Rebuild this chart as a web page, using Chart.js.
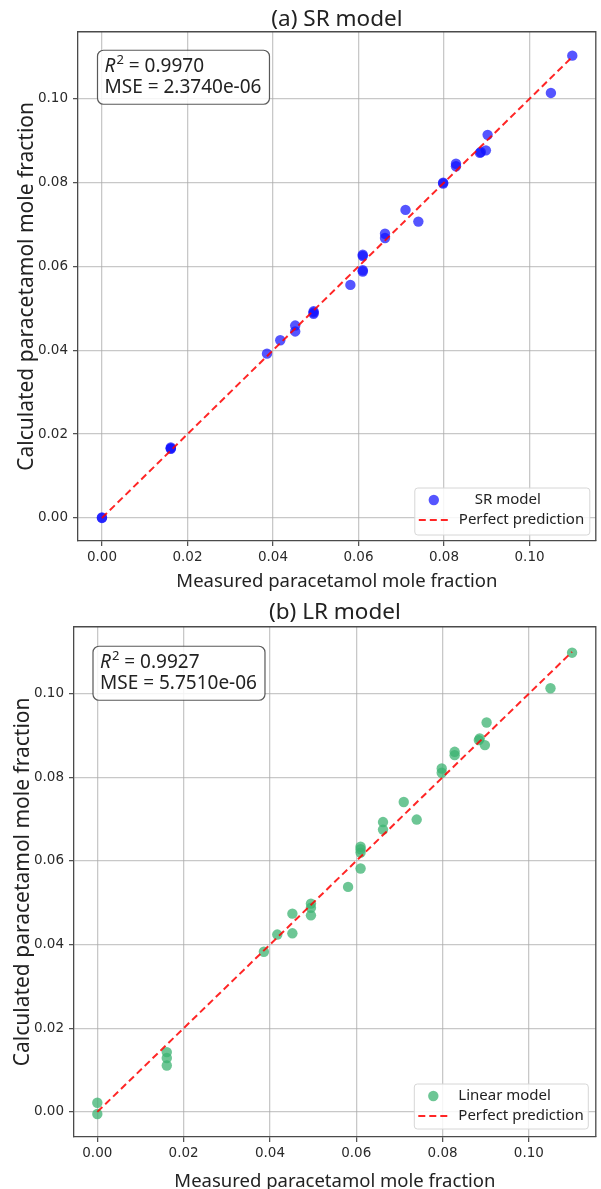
<!DOCTYPE html>
<html>
<head>
<meta charset="utf-8">
<script src="https://cdn.jsdelivr.net/npm/chart.js@4.4.1/dist/chart.umd.min.js"></script>
<style>
  html, body { margin: 0; padding: 0; background: #fff; }
  #wrap { position: relative; width: 601px; height: 1189px; }
  canvas { position: absolute; left: 0; }
  #chartA { top: 0; }
  #chartB { top: 595px; }
</style>
</head>
<body>
<div id="wrap">
  <canvas id="chartA" width="601" height="595"></canvas>
  <canvas id="chartB" width="601" height="594"></canvas>
</div>
<script>
// measured mole fractions (shared by both panels)
const measured = [0, 0, 0.0161, 0.0161, 0.0161, 0.0386, 0.0417, 0.0452, 0.0452, 0.0495, 0.0495, 0.0495,
  0.0581, 0.0610, 0.0610, 0.0610, 0.0610, 0.0662, 0.0662, 0.0710, 0.0740, 0.0798, 0.0798,
  0.0828, 0.0828, 0.0884, 0.0886, 0.0898, 0.0902, 0.1050, 0.1100];
// SR model predictions
const srPredicted = [0.0000, 0.0001, 0.0168, 0.0166, 0.0165, 0.0392, 0.0424, 0.0459, 0.0445, 0.0493, 0.0487, 0.0490,
  0.0556, 0.0628, 0.0625, 0.0591, 0.0588, 0.0678, 0.0668, 0.0735, 0.0707, 0.0800, 0.0798,
  0.0845, 0.0839, 0.0871, 0.0873, 0.0877, 0.0914, 0.1014, 0.1103];
// linear model predictions
const lrPredicted = [0.0022, -0.0005, 0.0143, 0.0129, 0.0111, 0.0383, 0.0424, 0.0474, 0.0427, 0.0498, 0.0488, 0.0470,
  0.0538, 0.0634, 0.0628, 0.0620, 0.0582, 0.0693, 0.0675, 0.0741, 0.0699, 0.0821, 0.0811,
  0.0861, 0.0853, 0.0889, 0.0893, 0.0877, 0.0931, 0.1013, 0.1098];
const perfectLine = [0, 0.11];
const xTicks = [0, 0.02, 0.04, 0.06, 0.08, 0.10];
const yTicks = [0, 0.02, 0.04, 0.06, 0.08, 0.10];
const srStats = { r2: "0.9970", mse: "2.3740e-06" };
const lrStats = { r2: "0.9927", mse: "5.7510e-06" };

const SANS = "'Noto Sans', 'Open Sans', sans-serif";
const TICKFONT = "'DejaVu Sans', sans-serif";
const spineColor = "#4a4a4a";

// stats box, legend and the top/right spines
const insetPlugin = {
  id: "inset",
  afterDraw(chart, args, opts) {
    const ctx = chart.ctx;
    const a = chart.chartArea;
    ctx.save();

    ctx.strokeStyle = spineColor;
    ctx.lineWidth = 1.3;
    ctx.beginPath();
    ctx.moveTo(a.left, a.top);
    ctx.lineTo(a.right, a.top);
    ctx.lineTo(a.right, a.bottom);
    ctx.stroke();

    // R2 / MSE box
    const bx = a.left + opts.statsX, by = a.top + opts.statsY;
    ctx.font = "19px " + SANS;
    const line2 = "MSE = " + opts.stats.mse;
    const bw = ctx.measureText(line2).width + 15;
    const bh = 54;
    ctx.beginPath();
    ctx.roundRect(bx, by, bw, bh, 6);
    ctx.fillStyle = "rgba(255,255,255,0.85)";
    ctx.fill();
    ctx.strokeStyle = "rgba(60,60,60,0.85)";
    ctx.lineWidth = 1.2;
    ctx.stroke();
    ctx.fillStyle = "#222";
    ctx.textBaseline = "middle";
    ctx.textAlign = "left";
    let tx = bx + 7;
    ctx.font = "italic 19px " + SANS;
    ctx.fillText("R", tx, by + 16);
    tx += ctx.measureText("R").width + 1;
    ctx.font = "13px " + SANS;
    ctx.fillText("2", tx, by + 10);
    tx += ctx.measureText("2").width;
    ctx.font = "19px " + SANS;
    ctx.fillText(" = " + opts.stats.r2, tx, by + 16);
    ctx.fillText(line2, bx + 7, by + 37);

    // legend
    const lg = opts.legend;
    const lx = a.right - lg.right - lg.w, ly = a.bottom - lg.bottom - lg.h;
    ctx.beginPath();
    ctx.roundRect(lx, ly, lg.w, lg.h, 3);
    ctx.fillStyle = "rgba(255,255,255,0.85)";
    ctx.fill();
    ctx.strokeStyle = "#d6d6d6";
    ctx.lineWidth = 1;
    ctx.stroke();
    ctx.font = "15px " + SANS;
    chart.data.datasets.forEach((ds, i) => {
      const rowY = ly + 12 + i * 20;
      if (ds.showLine) {
        ctx.strokeStyle = ds.borderColor;
        ctx.lineWidth = ds.borderWidth;
        ctx.setLineDash(ds.borderDash);
        ctx.beginPath();
        ctx.moveTo(lx + 4, rowY);
        ctx.lineTo(lx + 34, rowY);
        ctx.stroke();
        ctx.setLineDash([]);
      } else {
        ctx.fillStyle = ds.backgroundColor;
        ctx.beginPath();
        ctx.arc(lx + 19, rowY, ds.pointRadius, 0, Math.PI * 2);
        ctx.fill();
      }
      ctx.fillStyle = "#222";
      ctx.fillText(ds.label, lx + lg.textX + lg.shift[i], rowY);
    });
    ctx.restore();
  }
};

function buildChart(id, opts) {
  const scatterData = measured.map((x, i) => ({ x: x, y: opts.predicted[i] }));
  const lineData = perfectLine.map(v => ({ x: v, y: v }));
  const tickFmt = v => v.toFixed(2);
  return new Chart(document.getElementById(id), {
    type: "scatter",
    data: {
      datasets: [
        {
          label: opts.label,
          data: scatterData,
          backgroundColor: opts.color,
          borderWidth: 0,
          pointRadius: 5.2,
          pointHoverRadius: 5.2,
          order: 1,
        },
        {
          label: "Perfect prediction",
          data: lineData,
          showLine: true,
          borderColor: "rgba(255,0,0,0.85)",
          borderWidth: 2,
          borderDash: [7, 4],
          pointRadius: 0,
          order: 0,
        },
      ],
    },
    options: {
      responsive: false,
      animation: false,
      devicePixelRatio: 1,
      layout: { padding: { left: 0, right: opts.padRight, top: 0, bottom: 0 } },
      plugins: {
        legend: { display: false },
        tooltip: { enabled: false },
        title: {
          display: true,
          text: opts.title,
          fullSize: false,
          color: "#222",
          font: { family: SANS, size: 22.5, weight: "normal", lineHeight: 1.1 },
          padding: opts.titlePad,
        },
        inset: {
          stats: opts.stats,
          statsX: opts.statsX,
          statsY: opts.statsY,
          legend: opts.legend,
        },
      },
      scales: {
        x: {
          type: "linear",
          min: opts.xMin,
          max: opts.xMax,
          afterBuildTicks: s => { s.ticks = xTicks.map(v => ({ value: v })); },
          afterFit: s => { s.height = opts.xAxisH; },
          ticks: { callback: tickFmt, color: "#2a2a2a", font: { family: TICKFONT, size: 13.5 }, padding: 3, maxRotation: 0 },
          grid: { color: "rgba(170,170,170,0.65)", lineWidth: 1.3, tickColor: spineColor, tickLength: 5, tickWidth: 1.2 },
          border: { color: spineColor, width: 1.3 },
          title: {
            display: true,
            text: "Measured paracetamol mole fraction",
            color: "#222",
            font: { family: SANS, size: 18.5, lineHeight: 0.8 },
            padding: { top: 0, bottom: opts.xTitlePad },
          },
        },
        y: {
          type: "linear",
          min: opts.yMin,
          max: opts.yMax,
          afterBuildTicks: s => { s.ticks = yTicks.map(v => ({ value: v })); },
          afterFit: s => { s.width = opts.yAxisW; },
          ticks: { callback: tickFmt, color: "#2a2a2a", font: { family: TICKFONT, size: 13.5 }, padding: 5 },
          grid: { color: "rgba(170,170,170,0.65)", lineWidth: 1.3, tickColor: spineColor, tickLength: 5, tickWidth: 1.2 },
          border: { color: spineColor, width: 1.3 },
          title: {
            display: true,
            text: "Calculated paracetamol mole fraction",
            color: "#222",
            font: { family: SANS, size: 21, lineHeight: 1 },
            padding: { top: opts.yTitlePad, bottom: 0 },
          },
        },
      },
    },
    plugins: [insetPlugin],
  });
}

buildChart("chartA", {
  title: "(a) SR model",
  label: "SR model",
  predicted: srPredicted,
  color: "rgba(20,20,255,0.72)",
  stats: srStats,
  xMin: -0.0056, xMax: 0.1155,
  yMin: -0.0055, yMax: 0.1160,
  padRight: 0,
  yAxisW: 78,
  xAxisH: 54,
  titlePad: { top: 7, bottom: 0 },
  xTitlePad: 5.5,
  yTitlePad: 16.5,
  statsX: 19.5, statsY: 18.5,
  legend: { w: 175, h: 47, right: 6, bottom: 6, textX: 44, shift: [16, 0] },
});

buildChart("chartB", {
  title: "(b) LR model",
  label: "Linear model",
  predicted: lrPredicted,
  color: "rgba(60,179,113,0.75)",
  stats: lrStats,
  xMin: -0.0054, xMax: 0.1155,
  yMin: -0.0060, yMax: 0.1160,
  padRight: 4,
  yAxisW: 74,
  xAxisH: 52,
  titlePad: { top: 5, bottom: 2 },
  xTitlePad: 0,
  yTitlePad: 12.5,
  statsX: 19, statsY: 19.5,
  legend: { w: 174, h: 45, right: 7.5, bottom: 8, textX: 44, shift: [0, 0] },
});
</script>
</body>
</html>
